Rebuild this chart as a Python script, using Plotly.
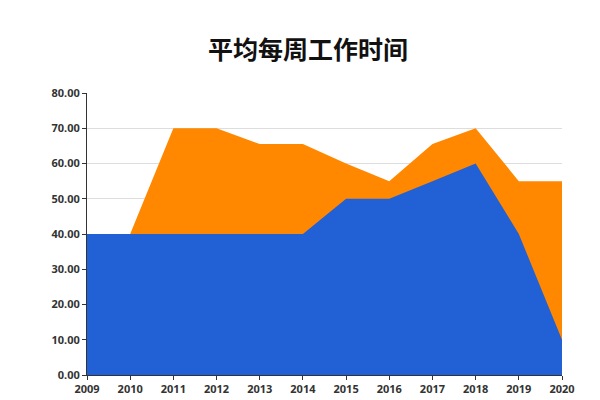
import plotly.graph_objects as go

years = [str(y) for y in range(2009, 2021)]
orange_vals = [40, 40, 70, 70, 65.5, 65.5, 60, 55, 65.5, 70, 55, 55]
blue_vals = [40, 40, 40, 40, 40, 40, 50, 50, 55, 60, 40, 10]

fig = go.Figure()
fig.add_trace(go.Scatter(x=years, y=orange_vals, fill='tozeroy', mode='none',
                         fillcolor='#FF8800', name='A'))
fig.add_trace(go.Scatter(x=years, y=blue_vals, fill='tozeroy', mode='none',
                         fillcolor='#2260D6', name='B'))
fig.update_layout(
    width=600, height=400, showlegend=False,
    plot_bgcolor='white', paper_bgcolor='white',
    margin=dict(l=79, r=46, t=85, b=27),
    title=dict(text='<b>平均每周工作时间</b>', x=0.5, y=0.895, xanchor='center', yanchor='middle',
               font=dict(size=25, family='Noto Sans CJK SC', color='#111')),
    font=dict(family='Noto Sans', size=11, color='#333'),
)
fig.update_xaxes(type='category', range=[0, 11], showgrid=False, showline=True,
                 linecolor='#333', ticks='outside', ticklen=4, tickcolor='#333',
                 tickfont=dict(size=11, family='Noto Sans', weight='bold'))
fig.update_yaxes(range=[0, 80], dtick=10, tickformat='.2f', showgrid=True,
                 gridcolor='#ddd', showline=True, linecolor='#333', ticks='outside',
                 ticklen=4, tickcolor='#333', zeroline=False,
                 tickfont=dict(size=11, family='Noto Sans', weight='bold'))
fig.write_html('out.html')
